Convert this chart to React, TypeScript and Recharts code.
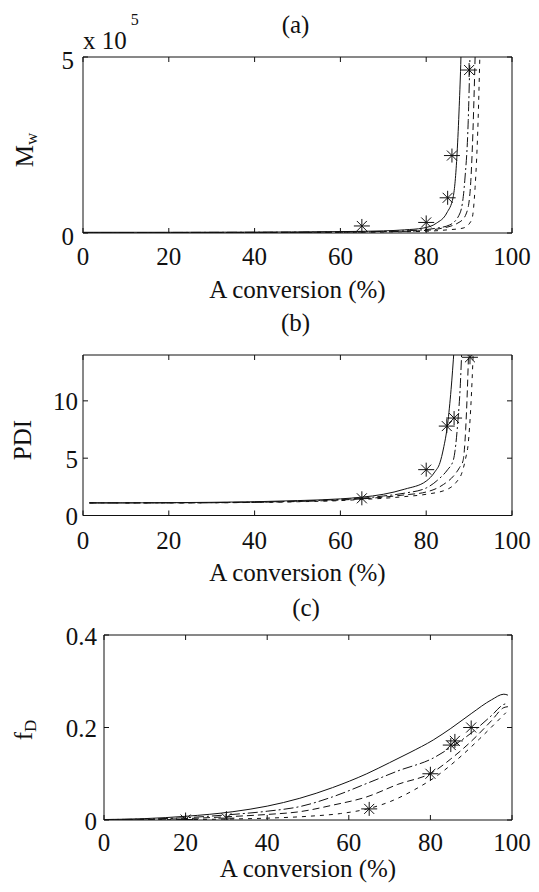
import React from 'react';
import { ComposedChart, Line, Scatter, XAxis, YAxis } from 'recharts';

type Pt = [number, number];

// ---------- ticks ----------
const xTicks = [0, 20, 40, 60, 80, 100];
const mwTicks = [0, 5];
const pdiTicks = [0, 5, 10];
const fdTicks = [0, 0.2, 0.4];

// ---------- panel (a): Mw (x 10^5) ----------
const mwSolid: Pt[] = [[0, 0.02], [20, 0.02], [40, 0.025], [60, 0.04], [70, 0.06], [75, 0.09], [79.3, 0.14], [82.4, 0.28], [84.8, 0.57], [86.3, 1.03], [87.2, 2.27], [87.7, 3.6], [88.1, 5.0], [88.3, 6.0]];
const mwDashDot: Pt[] = [[0, 0.01], [20, 0.015], [40, 0.02], [60, 0.03], [70, 0.045], [78, 0.08], [82, 0.13], [85.5, 0.23], [87.9, 0.57], [89, 1.5], [89.8, 3.2], [90.2, 5.0], [90.4, 6.0]];
const mwDashed: Pt[] = [[0, 0.005], [20, 0.01], [40, 0.015], [60, 0.025], [70, 0.035], [78, 0.06], [83, 0.12], [87.9, 0.32], [89.4, 0.57], [90.2, 1.13], [90.9, 2.9], [91.4, 5.0], [91.6, 6.0]];
const mwDashed2: Pt[] = [[0, 0.005], [20, 0.008], [40, 0.012], [60, 0.02], [70, 0.03], [80, 0.05], [85, 0.09], [88.6, 0.14], [90.6, 0.37], [91.4, 1.3], [92.1, 3.2], [92.5, 5.0], [92.7, 6.0]];
const mwMarks: Pt[] = [[65, 0.2], [80, 0.3], [85, 1.0], [86, 2.2], [90, 4.63]];

// ---------- panel (b): PDI ----------
const pdiSolid: Pt[] = [[1.5, 1.1], [10, 1.1], [20, 1.12], [30, 1.15], [40, 1.2], [50, 1.3], [60, 1.45], [65, 1.6], [70, 1.85], [75, 2.3], [80, 3.0], [82, 3.8], [83.2, 4.6], [84, 5.8], [85, 8.0], [85.8, 11], [86.5, 14.5]];
const pdiDashDot: Pt[] = [[1.5, 1.1], [20, 1.11], [40, 1.17], [50, 1.25], [60, 1.4], [65, 1.5], [70, 1.7], [75, 1.95], [80, 2.4], [83, 3.2], [85, 4.0], [86.3, 4.8], [86.9, 6.2], [87.4, 8.3], [87.9, 11], [88.3, 14.5]];
const pdiDashed: Pt[] = [[1.5, 1.1], [20, 1.1], [40, 1.15], [50, 1.22], [60, 1.35], [65, 1.45], [70, 1.6], [75, 1.8], [80, 2.05], [84, 2.7], [86.5, 3.5], [87.8, 4.2], [88.6, 4.8], [89.2, 7.5], [89.6, 11], [89.9, 14.5]];
const pdiDashed2: Pt[] = [[1.5, 1.1], [20, 1.1], [40, 1.14], [50, 1.2], [60, 1.3], [65, 1.4], [70, 1.5], [75, 1.65], [80, 1.85], [85, 2.3], [87, 2.9], [88.3, 3.7], [89.2, 5.0], [89.8, 6.3], [90.4, 9.5], [91, 14.5]];
const pdiMarks: Pt[] = [[65, 1.5], [80, 4.0], [84.8, 7.8], [86.5, 8.5], [90.2, 13.8]];

// ---------- panel (c): fD ----------
const fdSolid: Pt[] = [[0, 0.001], [10, 0.003], [20, 0.008], [31.6, 0.018], [40, 0.03], [48, 0.047], [56, 0.07], [64.4, 0.1], [70, 0.124], [75, 0.146], [80.7, 0.173], [85, 0.198], [90, 0.23], [95, 0.26], [98, 0.272], [99, 0.27]];
const fdDashDot: Pt[] = [[0, 0.001], [10, 0.002], [20, 0.005], [30, 0.011], [40, 0.019], [48, 0.029], [56, 0.05], [64.4, 0.079], [72, 0.106], [80.7, 0.134], [85, 0.157], [90, 0.188], [95, 0.226], [98, 0.25], [99, 0.252]];
const fdDashed: Pt[] = [[0, 0], [10, 0.001], [20, 0.003], [30, 0.007], [40, 0.012], [48, 0.018], [56, 0.032], [64.4, 0.05], [72, 0.077], [80.7, 0.104], [85, 0.132], [90, 0.17], [95, 0.215], [98, 0.243], [99, 0.245]];
const fdDashed2: Pt[] = [[0, 0], [20, 0.001], [30, 0.002], [40, 0.004], [50, 0.008], [58, 0.014], [65, 0.025], [71, 0.043], [76, 0.065], [82, 0.098], [87, 0.134], [92, 0.175], [96, 0.21], [98.5, 0.232]];
const fdMarks: Pt[] = [[20, 0.001], [30, 0.004], [65, 0.024], [80, 0.1], [85, 0.162], [86, 0.171], [90, 0.2]];

const toData = (pts: Pt[]) => pts.map(([x, y]) => ({ x, y }));

const FONT = '"Liberation Serif", "Times New Roman", Times, serif';
const INK = '#111';
const DASHES: (string | undefined)[] = [undefined, '10 3 2 3', '7 4', '4 5'];

function Txt(props: any) {
  const { px, py, text, size = 25 } = props;
  return (
    <text x={px} y={py} textAnchor="middle" dominantBaseline="central" fontFamily={FONT} fontSize={size} fill={INK}>
      {text}
    </text>
  );
}

function RotLabel(props: any) {
  const { px, py, main, sub } = props;
  return (
    <text transform={`rotate(-90 ${px} ${py})`} x={px} y={py} textAnchor="middle" dominantBaseline="central" fontFamily={FONT} fontSize={25} fill={INK}>
      {main}
      {sub ? <tspan dy={7} fontSize={17}>{sub}</tspan> : null}
    </text>
  );
}

function Multiplier() {
  return (
    <text x={83} y={40.5} dominantBaseline="central" fontFamily={FONT} fontSize={25} fill={INK}>
      x 10
      <tspan dx={4} dy={-22} fontSize={16}>5</tspan>
    </text>
  );
}

function Asterisk(props: any) {
  const { cx, cy } = props;
  if (cx == null || cy == null) return null;
  const r = 7, h = 8, d = 5;
  return (
    <g stroke={INK} strokeWidth={1}>
      <line x1={cx - h} x2={cx + h} y1={cy} y2={cy} />
      <line x1={cx} x2={cx} y1={cy - r} y2={cy + r} />
      <line x1={cx - d} x2={cx + d} y1={cy - d} y2={cy + d} />
      <line x1={cx - d} x2={cx + d} y1={cy + d} y2={cy - d} />
    </g>
  );
}

type PanelProps = {
  top: number;
  height: number;
  marginTop: number;
  xAxisHeight: number;
  yAxisWidth: number;
  yDomain: [number, number];
  yTicks: number[];
  series: Pt[][];
  marks: Pt[];
  xTickOff: number;
  yTickGap: number;
  yTickOff: number;
  yLabel: React.ReactElement;
  xLabelY: number;
  title: string;
  titleY: number;
  extra?: React.ReactElement;
};

function Panel(p: PanelProps) {
  const plotRight = 512;
  const cx = (p.yAxisWidth + plotRight) / 2;
  return (
    <div style={{ position: 'absolute', left: 0, top: p.top, width: 539, height: p.height }}>
      <ComposedChart width={539} height={p.height} margin={{ top: p.marginTop - 1, right: 539 - plotRight - 1, bottom: 0, left: 0 }}>
        <XAxis
          xAxisId={0}
          dataKey="x"
          type="number"
          domain={[0, 100]}
          ticks={xTicks}
          interval={0}
          allowDataOverflow
          height={p.xAxisHeight}
          tickSize={0}
          tickMargin={0}
          tickLine={false}
          axisLine={{ stroke: INK }}
          tick={(t: any) => (
            <g>
              <line x1={t.x} x2={t.x} y1={t.y} y2={t.y - 5} stroke={INK} />
              <text x={t.x} y={t.y + p.xTickOff} textAnchor="middle" dominantBaseline="central" fontFamily={FONT} fontSize={25} fill={INK}>
                {t.payload.value}
              </text>
            </g>
          )}
          label={<Txt px={cx} py={p.xLabelY} text="A conversion (%)" />}
        />
        <XAxis
          xAxisId="top"
          dataKey="x"
          orientation="top"
          type="number"
          domain={[0, 100]}
          ticks={xTicks}
          interval={0}
          allowDataOverflow
          height={1}
          tickSize={0}
          tickMargin={0}
          tickLine={false}
          axisLine={{ stroke: INK }}
          tick={(t: any) => <line x1={t.x} x2={t.x} y1={t.y} y2={t.y + 5} stroke={INK} />}
          label={<Txt px={cx - 2} py={p.titleY} text={p.title} />}
        />
        <YAxis
          yAxisId={0}
          type="number"
          domain={p.yDomain}
          ticks={p.yTicks}
          interval={0}
          allowDataOverflow
          width={p.yAxisWidth}
          tickSize={0}
          tickMargin={0}
          tickLine={false}
          axisLine={{ stroke: INK }}
          tick={(t: any) => (
            <g>
              <line x1={t.x} x2={t.x + 5} y1={t.y} y2={t.y} stroke={INK} />
              <text x={t.x - p.yTickGap} y={t.y + p.yTickOff} textAnchor="end" dominantBaseline="central" fontFamily={FONT} fontSize={25} fill={INK}>
                {t.payload.value}
              </text>
            </g>
          )}
          label={p.yLabel}
        />
        <YAxis
          yAxisId="right"
          orientation="right"
          type="number"
          domain={p.yDomain}
          ticks={p.yTicks}
          interval={0}
          allowDataOverflow
          width={1}
          tickSize={0}
          tickMargin={0}
          tickLine={false}
          axisLine={{ stroke: INK }}
          tick={(t: any) => <line x1={t.x} x2={t.x - 5} y1={t.y} y2={t.y} stroke={INK} />}
          label={p.extra}
        />
        {p.series.map((s, i) => (
          <Line
            key={i}
            data={toData(s)}
            dataKey="y"
            type="monotone"
            stroke={INK}
            strokeWidth={1}
            strokeDasharray={DASHES[i]}
            dot={false}
            activeDot={false}
            isAnimationActive={false}
          />
        ))}
        <Scatter
          xAxisId="top"
          yAxisId="right"
          data={toData(p.marks)}
          dataKey="y"
          shape={(s: any) => <Asterisk {...s} />}
          isAnimationActive={false}
        />
      </ComposedChart>
    </div>
  );
}

export default function App() {
  return (
    <div style={{ position: 'absolute', left: 0, top: 0, width: 539, height: 892, background: '#fff' }}>
      <Panel
        top={300}
        height={300}
        marginTop={55}
        xAxisHeight={84.5}
        yAxisWidth={83}
        yDomain={[0, 14]}
        yTicks={pdiTicks}
        series={[pdiSolid, pdiDashDot, pdiDashed, pdiDashed2]}
        marks={pdiMarks}
        xTickOff={24.5}
        yTickGap={5}
        yTickOff={1}
        yLabel={<RotLabel px={22} py={140} main="PDI" />}
        xLabelY={272}
        title="(b)"
        titleY={22}
      />
      <Panel
        top={0}
        height={312}
        marginTop={57}
        xAxisHeight={79}
        yAxisWidth={83}
        yDomain={[0, 5]}
        yTicks={mwTicks}
        series={[mwSolid, mwDashDot, mwDashed, mwDashed2]}
        marks={mwMarks}
        xTickOff={23.5}
        yTickGap={9}
        yTickOff={3}
        yLabel={<RotLabel px={24} py={150} main="M" sub="w" />}
        xLabelY={289}
        title="(a)"
        titleY={24.5}
        extra={<Multiplier />}
      />
      <Panel
        top={590}
        height={302}
        marginTop={45}
        xAxisHeight={72}
        yAxisWidth={104}
        yDomain={[0, 0.4]}
        yTicks={fdTicks}
        series={[fdSolid, fdDashDot, fdDashed, fdDashed2]}
        marks={fdMarks}
        xTickOff={22}
        yTickGap={7}
        yTickOff={1}
        yLabel={<RotLabel px={23} py={140} main="f" sub="D" />}
        xLabelY={278}
        title="(c)"
        titleY={17}
      />
    </div>
  );
}
